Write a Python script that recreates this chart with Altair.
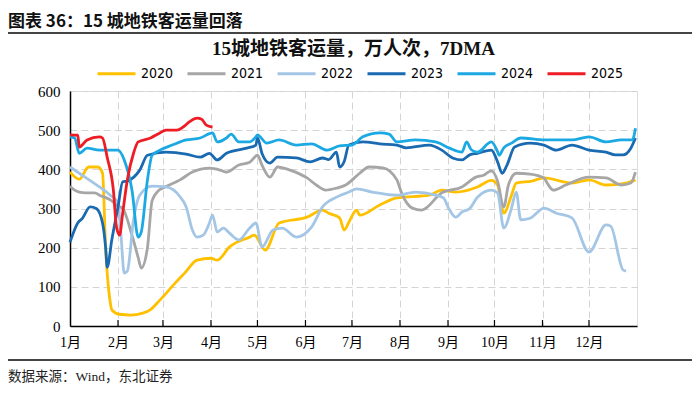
import altair as alt
import pandas as pd

years = ["2020", "2021", "2022", "2023", "2024", "2025"]
colors = ["#FFC000", "#A6A6A6", "#A4C6E6", "#1A6AB1", "#1CA9E3", "#EE1C25"]
month_starts = [0, 31, 60, 91, 121, 152, 182, 213, 244, 274, 305, 335]
y_ticks = [0, 100, 200, 300, 400, 500, 600]

header = "图表 36：15 城地铁客运量回落"
title = "15城地铁客运量，万人次，7DMA"
source = "数据来源：Wind，东北证券"

d2020 = [0, 6, 12, 18, 21, 23, 26, 27, 32, 39, 47, 52, 58, 68, 74, 82, 91, 95, 103, 116, 119, 126, 135, 153, 163, 167, 174, 177, 180, 185, 187, 200, 211, 232, 240, 249, 263, 272, 276, 280, 285, 288, 298, 306, 324, 335, 346, 359, 365]
v2020 = [393, 375, 406, 406, 390, 200, 60, 41, 30, 28, 33, 42, 66, 110, 135, 168, 173, 168, 202, 227, 232, 194, 263, 278, 296, 288, 276, 245, 265, 296, 283, 309, 327, 334, 347, 342, 355, 372, 360, 288, 334, 365, 370, 378, 365, 373, 360, 365, 373]

d2021 = [0, 3, 6, 10, 16, 19, 26, 31, 34, 40, 44, 46, 50, 53, 57, 60, 71, 79, 90, 97, 101, 109, 116, 121, 124, 129, 134, 142, 153, 159, 165, 172, 178, 187, 193, 202, 211, 214, 221, 227, 240, 253, 262, 267, 272, 276, 280, 283, 288, 297, 306, 308, 312, 320, 335, 346, 356, 362, 365]
v2021 = [357, 347, 342, 340, 340, 334, 322, 306, 300, 232, 175, 148, 200, 320, 345, 352, 373, 393, 403, 398, 393, 411, 418, 436, 410, 380, 406, 398, 378, 360, 347, 352, 360, 390, 406, 404, 373, 340, 301, 296, 340, 355, 380, 385, 396, 370, 304, 360, 390, 388, 378, 365, 347, 360, 380, 378, 360, 365, 393]

d2022 = [0, 6, 19, 26, 31, 33, 35, 37, 41, 45, 53, 62, 71, 75, 79, 82, 86, 90, 92, 95, 99, 103, 109, 116, 120, 124, 131, 137, 146, 156, 163, 172, 180, 185, 195, 211, 223, 236, 241, 245, 249, 253, 258, 263, 272, 276, 280, 285, 288, 291, 297, 306, 314, 324, 335, 346, 349, 357, 359]
v2022 = [406, 390, 355, 334, 314, 227, 135, 140, 271, 334, 357, 355, 330, 304, 245, 227, 232, 263, 283, 240, 250, 237, 220, 250, 263, 202, 245, 250, 227, 253, 304, 329, 342, 350, 342, 334, 342, 334, 327, 296, 278, 291, 300, 329, 347, 340, 250, 301, 342, 271, 275, 301, 288, 276, 189, 258, 255, 143, 140]

d2023 = [0, 5, 8, 13, 17, 21, 23, 24, 27, 31, 34, 37, 45, 50, 62, 75, 84, 90, 95, 101, 114, 120, 121, 124, 129, 134, 146, 155, 163, 167, 172, 174, 177, 180, 189, 200, 211, 217, 232, 240, 247, 253, 258, 263, 272, 276, 279, 282, 287, 297, 306, 314, 324, 335, 346, 352, 357, 362, 365]
v2023 = [214, 263, 275, 304, 300, 263, 200, 150, 220, 304, 368, 370, 398, 436, 444, 439, 431, 441, 424, 441, 454, 462, 480, 440, 416, 431, 429, 419, 429, 425, 444, 406, 420, 462, 470, 465, 462, 455, 462, 449, 429, 424, 437, 441, 449, 419, 390, 410, 457, 467, 462, 449, 462, 449, 444, 437, 437, 454, 480]

d2024 = [0, 3, 6, 11, 19, 31, 35, 40, 44, 46, 50, 53, 58, 66, 75, 84, 92, 95, 101, 104, 109, 116, 120, 121, 127, 135, 146, 156, 166, 174, 182, 189, 200, 206, 211, 223, 236, 245, 253, 256, 259, 263, 272, 276, 277, 280, 285, 291, 306, 324, 335, 346, 356, 363, 365]
v2024 = [483, 480, 441, 454, 449, 449, 424, 347, 227, 240, 373, 436, 449, 462, 475, 480, 493, 470, 480, 490, 470, 470, 483, 488, 467, 475, 462, 465, 449, 460, 462, 483, 493, 490, 470, 475, 470, 454, 444, 470, 450, 444, 470, 445, 436, 455, 467, 480, 475, 475, 483, 470, 475, 475, 505]

d2025 = [0, 5, 6, 11, 19, 21, 24, 28, 30, 32, 34, 37, 41, 44, 52, 58, 62, 69, 73, 77, 82, 85, 88, 92]
v2025 = [488, 487, 457, 475, 483, 480, 431, 347, 253, 232, 288, 373, 441, 470, 480, 493, 500, 500, 508, 521, 531, 528, 513, 508]

series = [(years[0], d2020, v2020), (years[1], d2021, v2021), (years[2], d2022, v2022),
          (years[3], d2023, v2023), (years[4], d2024, v2024), (years[5], d2025, v2025)]
rows = []
for yr, ds, vs in series:
    for i, (d, v) in enumerate(zip(ds, vs)):
        rows.append({"year": yr, "day": d, "value": v, "idx": i})
df = pd.DataFrame(rows)

SERIF = "Liberation Serif, Noto Sans CJK SC"
CJK = "Noto Sans CJK SC"
grid_color = "#D4D4D4"

label_expr = "(indexof([" + ",".join(str(m) for m in month_starts) + "], datum.value) + 1) + '月'"

lines = alt.Chart(df).mark_line(strokeWidth=2.8, interpolate="monotone", strokeJoin="round").encode(
    x=alt.X("day:Q", scale=alt.Scale(domain=[0, 366], nice=False, zero=False),
            axis=alt.Axis(values=month_starts, labelExpr=label_expr, title=None, grid=True,
                          gridDash=[7, 4], gridColor=grid_color, gridWidth=1, ticks=False,
                          domainColor="#000000", domainWidth=1.5, labelFont=SERIF, labelFontSize=14,
                          labelColor="#000000", labelPadding=9, labelAlign="center")),
    y=alt.Y("value:Q", scale=alt.Scale(domain=[0, 600], nice=False),
            axis=alt.Axis(values=y_ticks, title=None, grid=True, gridDash=[7, 4], gridColor=grid_color,
                          gridWidth=1, ticks=False, domainColor="#000000", domainWidth=1.5,
                          labelFont=SERIF, labelFontSize=15, labelColor="#000000", labelPadding=10)),
    color=alt.Color("year:N", scale=alt.Scale(domain=years, range=colors),
                    legend=alt.Legend(title=None, orient="none", legendX=26, legendY=-38,
                                      direction="horizontal", symbolType="stroke", symbolSize=1444,
                                      symbolStrokeWidth=3,
                                      labelFont="Liberation Sans Narrow, DejaVu Sans Condensed, Liberation Sans",
                                      labelFontSize=14, labelColor="#000000", columnPadding=7,
                                      labelOffset=4)),
    order=alt.Order("idx:Q"),
)

ticks_df = pd.DataFrame({"day": month_starts[1:]})
xticks = alt.Chart(ticks_df).mark_rule(color="#000000", strokeWidth=1.2).encode(
    x="day:Q", y=alt.value(235), y2=alt.value(229))

hdr = alt.Chart(pd.DataFrame({"t": [header]})).mark_text(
    font=CJK, fontSize=17, fontWeight="bold", align="left", baseline="middle", color="#111111"
).encode(text="t:N", x=alt.value(-62), y=alt.value(-69))

hdr_line = alt.Chart(pd.DataFrame({"t": [0]})).mark_rule(color="#444444", strokeWidth=2).encode(
    x=alt.value(-62), x2=alt.value(622), y=alt.value(-58))

ttl = alt.Chart(pd.DataFrame({"t": [title]})).mark_text(
    font=SERIF, fontSize=19, fontWeight="bold", align="center", baseline="middle", color="#111111"
).encode(text="t:N", x=alt.value(283.5), y=alt.value(-42))

foot_line = alt.Chart(pd.DataFrame({"t": [0]})).mark_rule(color="#444444", strokeWidth=2).encode(
    x=alt.value(-62), x2=alt.value(622), y=alt.value(269))

foot = alt.Chart(pd.DataFrame({"t": [source]})).mark_text(
    font=SERIF, fontSize=13.5, align="left", baseline="middle", color="#222222"
).encode(text="t:N", x=alt.value(-62), y=alt.value(286))

chart = alt.layer(lines, xticks, hdr, hdr_line, ttl, foot_line, foot).properties(
    width=567, height=235,
    autosize=alt.AutoSizeParams(type="none"),
    padding={"left": 62, "top": 83, "right": 55, "bottom": 60},
).configure_view(stroke=None).configure(background="white")

chart.save("out.html", embed_options={"renderer": "svg", "actions": False})
